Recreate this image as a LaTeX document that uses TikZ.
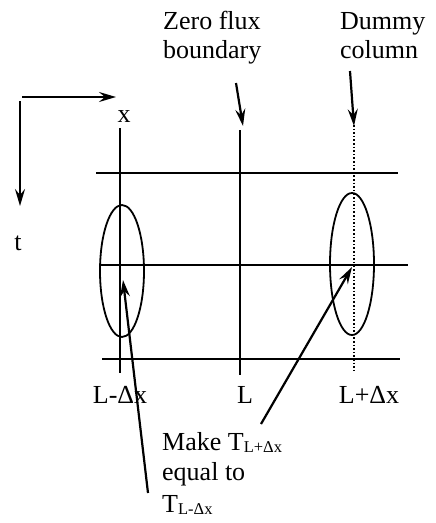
\documentclass[tikz,border=0pt]{standalone}
\usepackage{fontspec}
\setmainfont{Liberation Serif}
\usetikzlibrary{arrows.meta,shapes.geometric}
\begin{document}
\begin{tikzpicture}[x=1pt,y=-1pt,
  ln/.style={line width=2.2pt},
  arr/.style={line width=2.2pt,-{Stealth[length=17pt,width=10pt,inset=6pt]}},
  lbl/.style={font=\fontsize{26}{29}\selectfont,inner sep=0pt,anchor=base west},
  lblc/.style={font=\fontsize{26}{29}\selectfont,inner sep=0pt,anchor=base},
  ov/.style={draw,ellipse,line width=1.8pt,inner sep=0pt}]
\useasboundingbox (0,0) rectangle (436,523);
% axes
\coordinate (ax0) at (22,97);
\coordinate (ax1) at (116,97);
\coordinate (at0) at (20,101);
\coordinate (at1) at (20,206);
\draw[arr] (ax0) -- (ax1);
\draw[arr] (at0) -- (at1);
\node[lblc] (xl) at (124,122) {x};
\node[lblc] (tl) at (18,250) {t};
% grid
\coordinate (v1a) at (120,128); \coordinate (v1b) at (120,373);
\coordinate (v2a) at (240,130); \coordinate (v2b) at (240,375);
\coordinate (v3a) at (354,125); \coordinate (v3b) at (354,373);
\draw[ln] (v1a) -- (v1b);
\draw[ln] (v2a) -- (v2b);
\draw[line width=1.6pt,dotted] (v3a) -- (v3b);
\coordinate (h1a) at (96,173); \coordinate (h1b) at (398,173);
\coordinate (h2a) at (100,265); \coordinate (h2b) at (408,265);
\coordinate (h3a) at (102,359); \coordinate (h3b) at (400,359);
\draw[ln] (h1a) -- (h1b);
\draw[ln] (h2a) -- (h2b);
\draw[ln] (h3a) -- (h3b);
% ellipses
\node[ov,minimum width=44pt,minimum height=132pt] (eL) at (122,271) {};
\node[ov,minimum width=44pt,minimum height=142pt] (eR) at (352,264) {};
% top labels
\node[lbl] (zf1) at (163,29) {Zero flux};
\node[lbl] (zf2) at (163,58) {boundary};
\node[lbl] (dc1) at (340,29) {Dummy};
\node[lbl] (dc2) at (340,58) {column};
\coordinate (za) at (236,83); \coordinate (zb) at (243,126);
\coordinate (da) at (350,71); \coordinate (db) at (354,126);
\draw[arr] (za) -- (zb);
\draw[arr] (da) -- (db);
% bottom labels
\node[lblc] (lm) at (120,403) {L-Δx};
\node[lblc] (ll) at (245,403) {L};
\node[lblc] (lp) at (369,403) {L+Δx};
\node[lbl] (m1) at (162,450) {Make T\raisebox{-2pt}{\fontsize{16.5}{17}\selectfont L+Δx}};
\node[lbl] (m2) at (162,480) {equal to};
\node[lbl] (m3) at (162,512) {T\raisebox{-2pt}{\fontsize{16.5}{17}\selectfont L-Δx}};
\coordinate (p1a) at (148,493); \coordinate (p1b) at (123,280);
\coordinate (p2a) at (261,424); \coordinate (p2b) at (352,267);
\draw[arr] (p1a) -- (p1b);
\draw[arr] (p2a) -- (p2b);
\end{tikzpicture}
\end{document}
